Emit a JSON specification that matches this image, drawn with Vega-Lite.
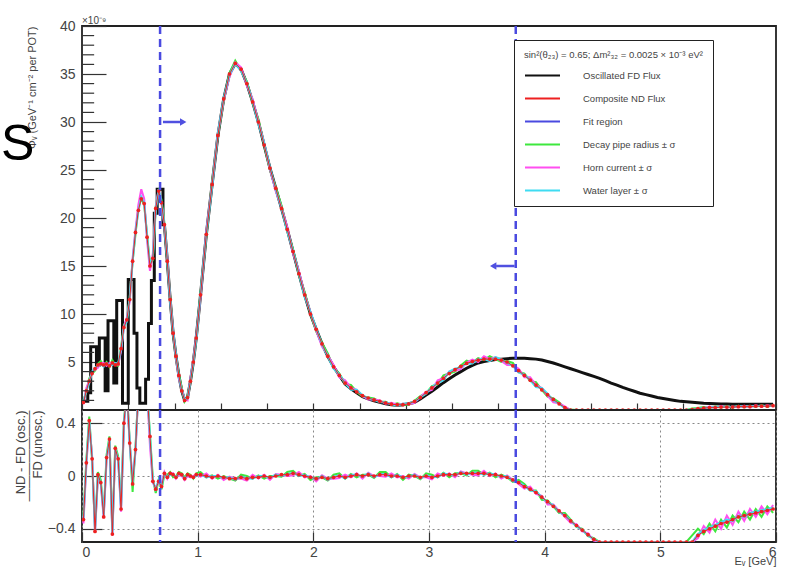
{
  "$schema": "https://vega.github.io/schema/vega-lite/v6.json",
  "autosize": {"type": "pad"},
  "padding": {"left": 0, "top": 15, "right": 0, "bottom": 0},
  "background": "white",
  "bounds": "flush",
  "spacing": 0,
  "resolve": {"scale": {"color": "independent"}, "legend": {"color": "independent"}},
  "config": {
    "font": "Liberation Sans",
    "view": {"stroke": "#222", "strokeWidth": 1.8},
    "axis": {"domain": false, "grid": false, "labelColor": "#444", "titleColor": "#444", "titleFontWeight": "normal", "tickColor": "#333", "labelFontSize": 14, "tickWidth": 1.2}
  },
  "datasets": {
    "flux": [
      {"E":0.0125,"fd":0.9,"nd":0.8,"g":1.0,"m":0.6,"c":0.9,"rn":-0.33,"rg":-0.30,"rm":-0.36,"rc":-0.33},
      {"E":0.0375,"fd":0.9,"nd":2.0,"g":1.9,"m":2.3,"c":2.0,"rn":0.10,"rg":0.12,"rm":0.08,"rc":0.10},
      {"E":0.0625,"fd":1.8,"nd":3.0,"g":3.3,"m":3.0,"c":2.8,"rn":0.42,"rg":0.45,"rm":0.40,"rc":0.42},
      {"E":0.0875,"fd":6.6,"nd":3.8,"g":3.8,"m":4.0,"c":4.0,"rn":0.13,"rg":0.12,"rm":0.15,"rc":0.13},
      {"E":0.1125,"fd":6.6,"nd":4.3,"g":4.1,"m":4.2,"c":4.4,"rn":-0.42,"rg":-0.40,"rm":-0.43,"rc":-0.42},
      {"E":0.1375,"fd":4.7,"nd":4.7,"g":4.8,"m":4.4,"c":4.6,"rn":0.01,"rg":0.03,"rm":-0.01,"rc":0.01},
      {"E":0.1625,"fd":7.5,"nd":4.8,"g":5.1,"m":4.9,"c":4.8,"rn":-0.05,"rg":-0.03,"rm":-0.06,"rc":-0.05},
      {"E":0.1875,"fd":7.5,"nd":4.7,"g":4.6,"m":4.9,"c":4.5,"rn":-0.31,"rg":-0.29,"rm":-0.32,"rc":-0.30},
      {"E":0.2125,"fd":2.0,"nd":4.8,"g":5.0,"m":4.6,"c":4.9,"rn":0.14,"rg":0.16,"rm":0.12,"rc":0.14},
      {"E":0.2375,"fd":9.3,"nd":4.6,"g":4.5,"m":4.9,"c":4.7,"rn":0.28,"rg":0.30,"rm":0.27,"rc":0.28},
      {"E":0.2625,"fd":9.3,"nd":4.9,"g":5.2,"m":4.9,"c":4.7,"rn":-0.44,"rg":-0.42,"rm":-0.45,"rc":-0.44},
      {"E":0.2875,"fd":2.8,"nd":4.7,"g":4.7,"m":4.9,"c":4.9,"rn":0.21,"rg":0.23,"rm":0.20,"rc":0.21},
      {"E":0.3125,"fd":11.4,"nd":4.8,"g":4.6,"m":4.7,"c":4.9,"rn":0.13,"rg":0.15,"rm":0.12,"rc":0.13},
      {"E":0.3375,"fd":11.4,"nd":6.4,"g":6.5,"m":6.1,"c":6.3,"rn":-0.25,"rg":-0.23,"rm":-0.27,"rc":-0.25},
      {"E":0.3625,"fd":0.7,"nd":8.6,"g":8.9,"m":8.7,"c":8.6,"rn":0.40,"rg":0.42,"rm":0.38,"rc":0.40},
      {"E":0.3875,"fd":0.7,"nd":9.4,"g":9.3,"m":9.6,"c":9.2,"rn":0.65,"rg":0.65,"rm":0.65,"rc":0.65},
      {"E":0.4125,"fd":13.6,"nd":11.5,"g":11.7,"m":11.3,"c":11.7,"rn":0.25,"rg":0.27,"rm":0.24,"rc":0.25},
      {"E":0.4375,"fd":13.6,"nd":15.5,"g":15.5,"m":15.8,"c":15.4,"rn":-0.06,"rg":-0.12,"rm":-0.03,"rc":-0.06},
      {"E":0.4625,"fd":8.0,"nd":18.5,"g":18.3,"m":18.8,"c":18.6,"rn":0.20,"rg":0.22,"rm":0.18,"rc":0.20},
      {"E":0.4875,"fd":2.3,"nd":20.8,"g":21.1,"m":21.4,"c":20.7,"rn":0.65,"rg":0.65,"rm":0.65,"rc":0.65},
      {"E":0.5125,"fd":0.7,"nd":22.0,"g":22.0,"m":23.0,"c":22.2,"rn":0.65,"rg":0.65,"rm":0.65,"rc":0.65},
      {"E":0.5375,"fd":0.7,"nd":21.5,"g":21.4,"m":22.0,"c":21.6,"rn":0.65,"rg":0.65,"rm":0.65,"rc":0.65},
      {"E":0.5625,"fd":3.2,"nd":18.0,"g":18.3,"m":17.7,"c":18.1,"rn":0.65,"rg":0.65,"rm":0.65,"rc":0.65},
      {"E":0.5875,"fd":9.0,"nd":15.0,"g":15.2,"m":14.5,"c":15.2,"rn":0.30,"rg":0.32,"rm":0.23,"rc":0.30},
      {"E":0.6125,"fd":13.5,"nd":15.8,"g":15.6,"m":16.3,"c":15.9,"rn":-0.04,"rg":-0.02,"rm":-0.05,"rc":-0.04},
      {"E":0.6375,"fd":20.5,"nd":21.0,"g":21.2,"m":21.1,"c":20.8,"rn":-0.10,"rg":-0.13,"rm":-0.09,"rc":-0.10},
      {"E":0.6625,"fd":23.0,"nd":22.8,"g":22.8,"m":23.0,"c":23.0,"rn":-0.04,"rg":-0.03,"rm":-0.05,"rc":-0.03},
      {"E":0.6875,"fd":23.0,"nd":21.6,"g":21.9,"m":21.5,"c":21.6,"rn":-0.08,"rg":-0.10,"rm":-0.06,"rc":-0.08},
      {"E":0.7125,"fd":19.3,"nd":19.3,"g":19.5,"m":19.2,"c":19.3,"rn":0.02,"rg":0.01,"rm":0.03,"rc":0.02},
      {"E":0.7375,"fd":15.5,"nd":15.5,"g":15.4,"m":15.8,"c":15.6,"rn":-0.01,"rg":0.01,"rm":-0.02,"rc":-0.01},
      {"E":0.7625,"fd":11.5,"nd":11.5,"g":11.8,"m":11.5,"c":11.3,"rn":0.02,"rg":0.03,"rm":0.02,"rc":0.01},
      {"E":0.7875,"fd":8.0,"nd":8.0,"g":8.0,"m":8.2,"c":8.2,"rn":0.01,"rg":-0.01,"rm":0.02,"rc":0.01},
      {"E":0.8125,"fd":5.6,"nd":5.6,"g":5.4,"m":5.5,"c":5.7,"rn":-0.01,"rg":0.0,"rm":-0.02,"rc":-0.01},
      {"E":0.8375,"fd":3.6,"nd":3.6,"g":3.7,"m":3.3,"c":3.5,"rn":0.02,"rg":0.03,"rm":0.01,"rc":0.02},
      {"E":0.8625,"fd":2.0,"nd":2.0,"g":2.3,"m":2.1,"c":2.0,"rn":0.01,"rg":0.02,"rm":0.0,"rc":0.01},
      {"E":0.8875,"fd":1.0,"nd":1.0,"g":0.9,"m":1.2,"c":1.1,"rn":-0.02,"rg":-0.01,"rm":-0.03,"rc":-0.02},
      {"E":0.9125,"fd":1.3,"nd":1.3,"g":1.5,"m":1.0,"c":1.2,"rn":0.01,"rg":0.02,"rm":0.0,"rc":0.01},
      {"E":0.9375,"fd":3.0,"nd":3.0,"g":2.9,"m":3.3,"c":3.1,"rn":0.0,"rg":0.01,"rm":-0.01,"rc":0.0},
      {"E":0.9625,"fd":5.0,"nd":5.0,"g":5.2,"m":5.2,"c":5.0,"rn":-0.01,"rg":-0.02,"rm":0.0,"rc":-0.01},
      {"E":0.9875,"fd":7.5,"nd":7.5,"g":7.4,"m":7.6,"c":7.3,"rn":0.01,"rg":0.02,"rm":0.01,"rc":0.0},
      {"E":1.025,"fd":12.0,"nd":12.0,"g":12.2,"m":11.8,"c":12.1,"rn":0.01,"rg":0.03,"rm":-0.005,"rc":0.015},
      {"E":1.075,"fd":18.3,"nd":18.3,"g":18.2,"m":18.6,"c":18.3,"rn":0.0,"rg":-0.01,"rm":0.02,"rc":-0.01},
      {"E":1.125,"fd":23.5,"nd":23.5,"g":23.8,"m":23.5,"c":23.3,"rn":-0.01,"rg":0.005,"rm":-0.02,"rc":0.0},
      {"E":1.175,"fd":28.6,"nd":28.6,"g":28.6,"m":28.8,"c":28.8,"rn":0.0,"rg":-0.02,"rm":0.01,"rc":0.0},
      {"E":1.225,"fd":32.4,"nd":32.4,"g":32.2,"m":32.3,"c":32.5,"rn":-0.01,"rg":0.0,"rm":-0.03,"rc":-0.015},
      {"E":1.275,"fd":35.0,"nd":35.0,"g":35.1,"m":34.7,"c":34.9,"rn":-0.02,"rg":-0.02,"rm":-0.005,"rc":-0.01},
      {"E":1.325,"fd":36.1,"nd":36.1,"g":36.4,"m":36.2,"c":36.1,"rn":-0.02,"rg":-0.035,"rm":-0.02,"rc":-0.03},
      {"E":1.375,"fd":35.5,"nd":35.5,"g":35.4,"m":35.7,"c":35.3,"rn":-0.01,"rg":0.01,"rm":-0.02,"rc":-0.005},
      {"E":1.425,"fd":34.0,"nd":34.0,"g":34.2,"m":33.8,"c":34.1,"rn":-0.02,"rg":0.0,"rm":-0.035,"rc":-0.015},
      {"E":1.475,"fd":32.1,"nd":32.1,"g":32.0,"m":32.4,"c":32.1,"rn":-0.01,"rg":-0.02,"rm":0.01,"rc":-0.02},
      {"E":1.525,"fd":30.0,"nd":30.0,"g":30.3,"m":30.0,"c":29.8,"rn":-0.01,"rg":0.005,"rm":-0.02,"rc":0.0},
      {"E":1.575,"fd":27.6,"nd":27.6,"g":27.6,"m":27.8,"c":27.8,"rn":0.0,"rg":-0.02,"rm":0.01,"rc":0.0},
      {"E":1.625,"fd":25.2,"nd":25.2,"g":25.0,"m":25.1,"c":25.3,"rn":-0.01,"rg":0.0,"rm":-0.03,"rc":-0.015},
      {"E":1.675,"fd":23.1,"nd":23.1,"g":23.2,"m":22.8,"c":23.0,"rn":0.0,"rg":0.0,"rm":0.015,"rc":0.01},
      {"E":1.725,"fd":21.0,"nd":21.0,"g":21.3,"m":21.1,"c":21.0,"rn":0.01,"rg":-0.005,"rm":0.01,"rc":0.0},
      {"E":1.775,"fd":18.8,"nd":18.8,"g":18.7,"m":19.0,"c":18.6,"rn":0.01,"rg":0.03,"rm":0.0,"rc":0.015},
      {"E":1.825,"fd":16.5,"nd":16.5,"g":16.7,"m":16.3,"c":16.6,"rn":0.02,"rg":0.04,"rm":0.005,"rc":0.025},
      {"E":1.875,"fd":14.2,"nd":14.2,"g":14.1,"m":14.5,"c":14.2,"rn":0.01,"rg":0.0,"rm":0.03,"rc":0.0},
      {"E":1.925,"fd":12.0,"nd":12.0,"g":12.3,"m":12.0,"c":11.8,"rn":0.0,"rg":0.015,"rm":-0.01,"rc":0.01},
      {"E":1.975,"fd":10.0,"nd":10.0,"g":10.0,"m":10.2,"c":10.2,"rn":-0.01,"rg":-0.03,"rm":0.0,"rc":-0.01},
      {"E":2.025,"fd":8.4,"nd":8.4,"g":8.2,"m":8.3,"c":8.5,"rn":-0.02,"rg":-0.01,"rm":-0.04,"rc":-0.025},
      {"E":2.075,"fd":6.9,"nd":6.9,"g":7.0,"m":6.6,"c":6.8,"rn":-0.01,"rg":-0.01,"rm":0.005,"rc":0.0},
      {"E":2.125,"fd":5.6,"nd":5.6,"g":5.9,"m":5.7,"c":5.6,"rn":-0.02,"rg":-0.035,"rm":-0.02,"rc":-0.03},
      {"E":2.175,"fd":4.5,"nd":4.5,"g":4.4,"m":4.7,"c":4.3,"rn":-0.01,"rg":0.01,"rm":-0.02,"rc":-0.005},
      {"E":2.225,"fd":3.6,"nd":3.6,"g":3.8,"m":3.4,"c":3.7,"rn":0.0,"rg":0.02,"rm":-0.015,"rc":0.005},
      {"E":2.275,"fd":2.7,"nd":2.8,"g":2.7,"m":3.1,"c":2.8,"rn":-0.01,"rg":-0.02,"rm":0.01,"rc":-0.02},
      {"E":2.325,"fd":2.2,"nd":2.3,"g":2.6,"m":2.3,"c":2.1,"rn":0.0,"rg":0.015,"rm":-0.01,"rc":0.01},
      {"E":2.375,"fd":1.8,"nd":1.9,"g":1.9,"m":2.1,"c":2.1,"rn":0.01,"rg":-0.01,"rm":0.02,"rc":0.01},
      {"E":2.425,"fd":1.4,"nd":1.5,"g":1.4,"m":1.45,"c":1.55,"rn":0.0,"rg":0.01,"rm":-0.02,"rc":-0.005},
      {"E":2.475,"fd":1.15,"nd":1.25,"g":1.3,"m":1.1,"c":1.2,"rn":0.01,"rg":0.01,"rm":0.025,"rc":0.02},
      {"E":2.525,"fd":0.95,"nd":1.05,"g":1.2,"m":1.1,"c":1.05,"rn":0.0,"rg":-0.015,"rm":0.0,"rc":-0.01},
      {"E":2.575,"fd":0.8,"nd":0.9,"g":0.85,"m":1.0,"c":0.8,"rn":0.01,"rg":0.03,"rm":0.0,"rc":0.015},
      {"E":2.625,"fd":0.65,"nd":0.75,"g":0.85,"m":0.65,"c":0.8,"rn":0.01,"rg":0.03,"rm":-0.005,"rc":0.015},
      {"E":2.675,"fd":0.55,"nd":0.6,"g":0.55,"m":0.75,"c":0.6,"rn":0.0,"rg":-0.01,"rm":0.02,"rc":-0.01},
      {"E":2.725,"fd":0.5,"nd":0.55,"g":0.7,"m":0.55,"c":0.45,"rn":0.0,"rg":0.015,"rm":-0.01,"rc":0.01},
      {"E":2.775,"fd":0.55,"nd":0.55,"g":0.55,"m":0.65,"c":0.65,"rn":-0.01,"rg":-0.03,"rm":0.0,"rc":-0.01},
      {"E":2.825,"fd":0.65,"nd":0.65,"g":0.55,"m":0.6,"c":0.7,"rn":0.0,"rg":0.01,"rm":-0.02,"rc":-0.005},
      {"E":2.875,"fd":0.8,"nd":0.9,"g":0.95,"m":0.75,"c":0.85,"rn":0.0,"rg":0.0,"rm":0.015,"rc":0.01},
      {"E":2.925,"fd":1.15,"nd":1.3,"g":1.45,"m":1.35,"c":1.3,"rn":-0.01,"rg":-0.025,"rm":-0.01,"rc":-0.02},
      {"E":2.975,"fd":1.55,"nd":1.8,"g":1.75,"m":1.9,"c":1.7,"rn":0.0,"rg":0.02,"rm":-0.01,"rc":0.005},
      {"E":3.025,"fd":1.95,"nd":2.3,"g":2.5,"m":2.1,"c":2.4,"rn":-0.01,"rg":0.01,"rm":-0.025,"rc":-0.005},
      {"E":3.075,"fd":2.4,"nd":2.8,"g":2.7,"m":3.1,"c":2.8,"rn":0.0,"rg":-0.01,"rm":0.02,"rc":-0.01},
      {"E":3.125,"fd":2.85,"nd":3.3,"g":3.6,"m":3.3,"c":3.1,"rn":0.01,"rg":0.025,"rm":0.0,"rc":0.02},
      {"E":3.175,"fd":3.25,"nd":3.8,"g":3.8,"m":4.0,"c":4.0,"rn":0.01,"rg":-0.01,"rm":0.02,"rc":0.01},
      {"E":3.225,"fd":3.65,"nd":4.2,"g":4.0,"m":4.1,"c":4.3,"rn":0.01,"rg":0.02,"rm":-0.01,"rc":0.005},
      {"E":3.275,"fd":4.0,"nd":4.55,"g":4.65,"m":4.25,"c":4.45,"rn":0.02,"rg":0.02,"rm":0.035,"rc":0.03},
      {"E":3.325,"fd":4.35,"nd":4.85,"g":5.15,"m":4.95,"c":4.85,"rn":0.02,"rg":0.005,"rm":0.02,"rc":0.01},
      {"E":3.375,"fd":4.65,"nd":5.05,"g":4.95,"m":5.25,"c":4.85,"rn":0.02,"rg":0.04,"rm":0.01,"rc":0.025},
      {"E":3.425,"fd":4.9,"nd":5.2,"g":5.4,"m":5.0,"c":5.3,"rn":0.02,"rg":0.04,"rm":0.005,"rc":0.025},
      {"E":3.475,"fd":5.05,"nd":5.3,"g":5.2,"m":5.6,"c":5.3,"rn":0.02,"rg":0.01,"rm":0.04,"rc":0.01},
      {"E":3.525,"fd":5.15,"nd":5.3,"g":5.6,"m":5.3,"c":5.1,"rn":0.01,"rg":0.025,"rm":0.0,"rc":0.02},
      {"E":3.575,"fd":5.25,"nd":5.3,"g":5.3,"m":5.5,"c":5.5,"rn":0.01,"rg":-0.01,"rm":0.02,"rc":0.01},
      {"E":3.625,"fd":5.3,"nd":5.2,"g":5.0,"m":5.1,"c":5.3,"rn":0.0,"rg":0.01,"rm":-0.02,"rc":-0.005},
      {"E":3.675,"fd":5.35,"nd":5.0,"g":5.1,"m":4.7,"c":4.9,"rn":-0.01,"rg":-0.01,"rm":0.005,"rc":0.0},
      {"E":3.725,"fd":5.4,"nd":4.6,"g":4.9,"m":4.7,"c":4.6,"rn":-0.03,"rg":-0.045,"rm":-0.03,"rc":-0.04},
      {"E":3.775,"fd":5.4,"nd":4.1,"g":4.0,"m":4.3,"c":3.9,"rn":-0.05,"rg":-0.03,"rm":-0.06,"rc":-0.045},
      {"E":3.825,"fd":5.4,"nd":3.6,"g":3.8,"m":3.4,"c":3.7,"rn":-0.08,"rg":-0.06,"rm":-0.095,"rc":-0.075},
      {"E":3.875,"fd":5.35,"nd":3.1,"g":3.0,"m":3.4,"c":3.1,"rn":-0.10,"rg":-0.11,"rm":-0.08,"rc":-0.11},
      {"E":3.925,"fd":5.3,"nd":2.6,"g":2.9,"m":2.6,"c":2.4,"rn":-0.125,"rg":-0.11,"rm":-0.135,"rc":-0.115},
      {"E":3.975,"fd":5.2,"nd":2.1,"g":2.1,"m":2.3,"c":2.3,"rn":-0.16,"rg":-0.18,"rm":-0.15,"rc":-0.16},
      {"E":4.025,"fd":5.05,"nd":1.6,"g":1.4,"m":1.5,"c":1.7,"rn":-0.195,"rg":-0.185,"rm":-0.215,"rc":-0.2},
      {"E":4.075,"fd":4.9,"nd":1.1,"g":1.2,"m":0.8,"c":1.0,"rn":-0.23,"rg":-0.23,"rm":-0.215,"rc":-0.22},
      {"E":4.125,"fd":4.7,"nd":0.65,"g":0.8,"m":0.7,"c":0.65,"rn":-0.265,"rg":-0.28,"rm":-0.265,"rc":-0.275},
      {"E":4.175,"fd":4.5,"nd":0.25,"g":0.2,"m":0.35,"c":0.15,"rn":-0.30,"rg":-0.28,"rm":-0.31,"rc":-0.295},
      {"E":4.225,"fd":4.3,"nd":0.0,"g":0.05,"m":0.0,"c":0.0,"rn":-0.34,"rg":-0.33,"rm":-0.355,"rc":-0.34},
      {"E":4.275,"fd":4.1,"nd":0,"g":0,"m":0,"c":0,"rn":-0.375,"rg":-0.385,"rm":-0.365,"rc":-0.38},
      {"E":4.325,"fd":3.9,"nd":0,"g":0,"m":0,"c":0,"rn":-0.41,"rg":-0.40,"rm":-0.42,"rc":-0.41},
      {"E":4.375,"fd":3.7,"nd":0,"g":0,"m":0,"c":0,"rn":-0.445,"rg":-0.455,"rm":-0.435,"rc":-0.45},
      {"E":4.425,"fd":3.5,"nd":0,"g":0,"m":0,"c":0,"rn":-0.48,"rg":-0.47,"rm":-0.49,"rc":-0.48},
      {"E":4.475,"fd":3.3,"nd":0,"g":0,"m":0,"c":0,"rn":-0.5,"rg":-0.5,"rm":-0.5,"rc":-0.5},
      {"E":4.525,"fd":3.05,"nd":0,"g":0,"m":0,"c":0,"rn":-0.5,"rg":-0.5,"rm":-0.5,"rc":-0.5},
      {"E":4.575,"fd":2.8,"nd":0,"g":0,"m":0,"c":0,"rn":-0.5,"rg":-0.5,"rm":-0.5,"rc":-0.5},
      {"E":4.625,"fd":2.6,"nd":0,"g":0,"m":0,"c":0,"rn":-0.5,"rg":-0.5,"rm":-0.5,"rc":-0.5},
      {"E":4.675,"fd":2.35,"nd":0,"g":0,"m":0,"c":0,"rn":-0.5,"rg":-0.5,"rm":-0.5,"rc":-0.5},
      {"E":4.725,"fd":2.15,"nd":0,"g":0,"m":0,"c":0,"rn":-0.5,"rg":-0.5,"rm":-0.5,"rc":-0.5},
      {"E":4.775,"fd":1.95,"nd":0,"g":0,"m":0,"c":0,"rn":-0.5,"rg":-0.5,"rm":-0.5,"rc":-0.5},
      {"E":4.825,"fd":1.75,"nd":0,"g":0,"m":0,"c":0,"rn":-0.5,"rg":-0.5,"rm":-0.5,"rc":-0.5},
      {"E":4.875,"fd":1.6,"nd":0,"g":0,"m":0,"c":0,"rn":-0.5,"rg":-0.5,"rm":-0.5,"rc":-0.5},
      {"E":4.925,"fd":1.45,"nd":0,"g":0,"m":0,"c":0,"rn":-0.5,"rg":-0.5,"rm":-0.5,"rc":-0.5},
      {"E":4.975,"fd":1.3,"nd":0,"g":0,"m":0,"c":0,"rn":-0.5,"rg":-0.5,"rm":-0.5,"rc":-0.5},
      {"E":5.025,"fd":1.2,"nd":0,"g":0,"m":0,"c":0,"rn":-0.5,"rg":-0.5,"rm":-0.5,"rc":-0.5},
      {"E":5.075,"fd":1.1,"nd":0,"g":0,"m":0,"c":0,"rn":-0.5,"rg":-0.5,"rm":-0.5,"rc":-0.5},
      {"E":5.125,"fd":1.0,"nd":0,"g":0,"m":0,"c":0,"rn":-0.5,"rg":-0.5,"rm":-0.5,"rc":-0.5},
      {"E":5.175,"fd":0.9,"nd":0,"g":0,"m":0,"c":0,"rn":-0.5,"rg":-0.5,"rm":-0.5,"rc":-0.5},
      {"E":5.225,"fd":0.85,"nd":0,"g":0,"m":0,"c":0,"rn":-0.5,"rg":-0.5,"rm":-0.5,"rc":-0.5},
      {"E":5.275,"fd":0.8,"nd":0.05,"g":0.15,"m":0.0,"c":0.05,"rn":-0.5,"rg":-0.45,"rm":-0.5,"rc":-0.5},
      {"E":5.325,"fd":0.75,"nd":0.15,"g":0.2,"m":0.1,"c":0.15,"rn":-0.45,"rg":-0.40,"rm":-0.47,"rc":-0.44},
      {"E":5.375,"fd":0.7,"nd":0.2,"g":0.3,"m":0.15,"c":0.2,"rn":-0.42,"rg":-0.44,"rm":-0.38,"rc":-0.41},
      {"E":5.425,"fd":0.68,"nd":0.25,"g":0.2,"m":0.35,"c":0.25,"rn":-0.40,"rg":-0.36,"rm":-0.43,"rc":-0.39},
      {"E":5.475,"fd":0.65,"nd":0.25,"g":0.35,"m":0.2,"c":0.3,"rn":-0.38,"rg":-0.42,"rm":-0.33,"rc":-0.37},
      {"E":5.525,"fd":0.63,"nd":0.3,"g":0.25,"m":0.4,"c":0.3,"rn":-0.36,"rg":-0.33,"rm":-0.40,"rc":-0.35},
      {"E":5.575,"fd":0.62,"nd":0.3,"g":0.4,"m":0.25,"c":0.35,"rn":-0.35,"rg":-0.39,"rm":-0.30,"rc":-0.33},
      {"E":5.625,"fd":0.6,"nd":0.3,"g":0.25,"m":0.35,"c":0.3,"rn":-0.33,"rg":-0.30,"rm":-0.37,"rc":-0.34},
      {"E":5.675,"fd":0.6,"nd":0.35,"g":0.45,"m":0.3,"c":0.4,"rn":-0.31,"rg":-0.35,"rm":-0.27,"rc":-0.30},
      {"E":5.725,"fd":0.6,"nd":0.35,"g":0.3,"m":0.45,"c":0.35,"rn":-0.30,"rg":-0.27,"rm":-0.34,"rc":-0.31},
      {"E":5.775,"fd":0.6,"nd":0.35,"g":0.45,"m":0.3,"c":0.4,"rn":-0.29,"rg":-0.33,"rm":-0.25,"rc":-0.28},
      {"E":5.825,"fd":0.6,"nd":0.4,"g":0.35,"m":0.5,"c":0.4,"rn":-0.28,"rg":-0.25,"rm":-0.31,"rc":-0.27},
      {"E":5.875,"fd":0.6,"nd":0.4,"g":0.5,"m":0.35,"c":0.45,"rn":-0.27,"rg":-0.31,"rm":-0.23,"rc":-0.26},
      {"E":5.925,"fd":0.6,"nd":0.4,"g":0.35,"m":0.5,"c":0.4,"rn":-0.26,"rg":-0.23,"rm":-0.29,"rc":-0.25},
      {"E":5.975,"fd":0.6,"nd":0.45,"g":0.5,"m":0.4,"c":0.45,"rn":-0.25,"rg":-0.28,"rm":-0.22,"rc":-0.24}
    ],
    "fit": [{"E": 0.675}, {"E": 3.75}],
    "arrows": [{"x": 0.70, "x2": 0.86, "y": 30}, {"x": 3.74, "x2": 3.58, "y": 15}],
    "heads": [{"x": 0.875, "y": 30, "dir": "right"}, {"x": 3.555, "y": 15, "dir": "left"}],
    "minorY": [{"v":1},{"v":2},{"v":3},{"v":4},{"v":6},{"v":7},{"v":8},{"v":9},{"v":11},{"v":12},{"v":13},{"v":14},{"v":16},{"v":17},{"v":18},{"v":19},{"v":21},{"v":22},{"v":23},{"v":24},{"v":26},{"v":27},{"v":28},{"v":29},{"v":31},{"v":32},{"v":33},{"v":34},{"v":36},{"v":37},{"v":38},{"v":39}],
    "stray": [{"x": -0.701, "y": 26.0, "t": "S"}]
  },
  "vconcat": [
    {
      "width": 694,
      "height": 384,
      "title": {"text": "×10⁻⁹", "anchor": "start", "frame": "group", "fontSize": 10, "fontWeight": "normal", "color": "#444", "offset": -7},
      "layer": [
        {
          "data": {"name": "flux"},
          "transform": [{"filter": "datum.E <= 0.72"}],
          "mark": {"type": "line", "interpolate": "step", "strokeWidth": 3, "clip": true},
          "encoding": {
            "x": {"field": "E", "type": "quantitative", "scale": {"domain": [0, 6], "nice": false},
                  "axis": {"values": [0, 0.2, 0.4, 0.6, 0.8, 1, 1.2, 1.4, 1.6, 1.8, 2, 2.2, 2.4, 2.6, 2.8, 3, 3.2, 3.4, 3.6, 3.8, 4, 4.2, 4.4, 4.6, 4.8, 5, 5.2, 5.4, 5.6, 5.8, 6], "labels": false, "tickSize": -7, "title": null}},
            "y": {"field": "fd", "type": "quantitative", "scale": {"domain": [0, 40], "nice": false},
                  "axis": {"values": [5, 10, 15, 20, 25, 30, 35, 40], "tickSize": -24, "labelPadding": 31,
                           "title": "Φᵥ (GeV⁻¹ cm⁻² per POT)", "titleAnchor": "end", "titleFontSize": 11, "titlePadding": 22}},
            "color": {"datum": "fd", "type": "nominal",
                      "scale": {"domain": ["fd", "nd", "fit", "g", "m", "c"], "range": ["#111111", "#ee2020", "#4a4ae0", "#3ee83e", "#ff4ff0", "#3fdcf2"]},
                      "legend": {
                        "orient": "none", "legendX": 432, "legendY": 14,
                        "title": "sin²(θ₂₃) = 0.65; Δm²₃₂ = 0.0025 × 10⁻³ eV²\u00a0\u00a0\u00a0\u00a0\u00a0\u00a0\u00a0\u00a0\u00a0\u00a0\u00a0\u00a0\u00a0\u00a0\u00a0\u00a0\u00a0\u00a0\u00a0\u00a0\u00a0\u00a0\u00a0\u00a0",
                        "titleLimit": 400,
                        "titleFontSize": 9.5, "titleFontWeight": "normal", "titleColor": "#444", "titlePadding": -2.4,
                        "labelFontSize": 9.5, "labelColor": "#444", "labelOffset": 22,
                        "symbolType": "stroke", "symbolSize": 1225, "symbolStrokeWidth": 2,
                        "rowPadding": -14, "padding": 10, "offset": 0,
                        "strokeColor": "#222", "fillColor": "white",
                        "labelExpr": "datum.label == 'fd' ? 'Oscillated FD Flux' : datum.label == 'nd' ? 'Composite ND Flux' : datum.label == 'fit' ? 'Fit region' : datum.label == 'g' ? 'Decay pipe radius ± σ' : datum.label == 'm' ? 'Horn current ± σ' : 'Water layer ± σ'"
                      }}
          }
        },
        {
          "data": {"name": "flux"},
          "transform": [{"filter": "datum.E >= 0.7"}],
          "mark": {"type": "line", "interpolate": "linear", "strokeWidth": 3, "clip": true},
          "encoding": {
            "x": {"field": "E", "type": "quantitative"},
            "y": {"field": "fd", "type": "quantitative"},
            "color": {"datum": "fd", "type": "nominal"}
          }
        },
        {
          "data": {"name": "flux"},
          "transform": [{"fold": ["g", "m", "c"], "as": ["series", "val"]}],
          "mark": {"type": "line", "interpolate": "linear", "strokeWidth": 2, "clip": true},
          "encoding": {
            "x": {"field": "E", "type": "quantitative"},
            "y": {"field": "val", "type": "quantitative"},
            "color": {"field": "series", "type": "nominal"}
          }
        },
        {
          "data": {"name": "flux"},
          "mark": {"type": "line", "interpolate": "linear", "strokeWidth": 1, "clip": true, "point": {"filled": true, "size": 14}},
          "encoding": {
            "x": {"field": "E", "type": "quantitative"},
            "y": {"field": "nd", "type": "quantitative"},
            "color": {"datum": "nd", "type": "nominal"}
          }
        },
        {
          "data": {"name": "minorY"},
          "mark": {"type": "rule", "strokeWidth": 1.2, "color": "#333"},
          "encoding": {
            "y": {"field": "v", "type": "quantitative"},
            "x": {"datum": 0, "type": "quantitative"},
            "x2": {"datum": 0.105}
          }
        },
        {
          "data": {"name": "fit"},
          "mark": {"type": "rule", "strokeDash": [8, 5], "strokeWidth": 2.5, "color": "#4a4ae0"},
          "encoding": {
            "x": {"field": "E", "type": "quantitative"}
          }
        },
        {
          "data": {"name": "arrows"},
          "mark": {"type": "rule", "strokeWidth": 2.5, "color": "#5050e0"},
          "encoding": {
            "x": {"field": "x", "type": "quantitative"},
            "x2": {"field": "x2"},
            "y": {"field": "y", "type": "quantitative"}
          }
        },
        {
          "data": {"name": "heads"},
          "mark": {"type": "point", "filled": true, "size": 55, "color": "#5050e0", "opacity": 1},
          "encoding": {
            "x": {"field": "x", "type": "quantitative"},
            "y": {"field": "y", "type": "quantitative"},
            "shape": {"field": "dir", "type": "nominal", "scale": {"domain": ["right", "left"], "range": ["triangle-right", "triangle-left"]}, "legend": null}
          }
        },
        {
          "data": {"name": "stray"},
          "mark": {"type": "text", "fontSize": 50, "align": "left", "baseline": "alphabetic", "color": "#000"},
          "encoding": {
            "x": {"field": "x", "type": "quantitative"},
            "y": {"field": "y", "type": "quantitative"},
            "text": {"field": "t"}
          }
        }
      ]
    },
    {
      "width": 694,
      "height": 132,
      "layer": [
        {
          "data": {"name": "flux"},
          "transform": [{"fold": ["rg", "rm", "rc"], "as": ["series", "val"]}],
          "mark": {"type": "line", "interpolate": "linear", "strokeWidth": 2, "clip": true},
          "encoding": {
            "x": {"field": "E", "type": "quantitative", "scale": {"domain": [0, 6], "nice": false},
                  "axis": {"values": [0, 1, 2, 3, 4, 5, 6], "format": "d", "tickSize": -10, "labelPadding": 13, "grid": true, "gridDash": [2, 3], "gridColor": "#888",
                           "title": "Eᵥ [GeV]", "titleAnchor": "end", "titleFontSize": 11, "titlePadding": -4}},
            "y": {"field": "val", "type": "quantitative", "scale": {"domain": [-0.5, 0.5], "nice": false},
                  "axis": {"values": [-0.4, -0.2, 0, 0.2, 0.4], "format": "~g", "tickSize": -20, "labelPadding": 27, "grid": true, "gridDash": [2, 3], "gridColor": "#888",
                           "title": ["ND - FD (osc.)", "———————", "FD (unosc.)"], "titleAnchor": "end", "titleFontSize": 13, "titleLineHeight": 8.5, "titlePadding": 3}},
            "color": {"field": "series", "type": "nominal", "scale": {"domain": ["rg", "rm", "rc"], "range": ["#3ee83e", "#ff4ff0", "#3fdcf2"]}, "legend": null}
          }
        },
        {
          "data": {"name": "flux"},
          "mark": {"type": "line", "interpolate": "linear", "strokeWidth": 1, "clip": true, "color": "#ee2020", "point": {"filled": true, "size": 14, "color": "#ee2020"}},
          "encoding": {
            "x": {"field": "E", "type": "quantitative"},
            "y": {"field": "rn", "type": "quantitative"}
          }
        },
        {
          "data": {"name": "fit"},
          "mark": {"type": "rule", "strokeDash": [8, 5], "strokeWidth": 2.5, "color": "#4a4ae0"},
          "encoding": {
            "x": {"field": "E", "type": "quantitative"}
          }
        }
      ]
    }
  ]
}
